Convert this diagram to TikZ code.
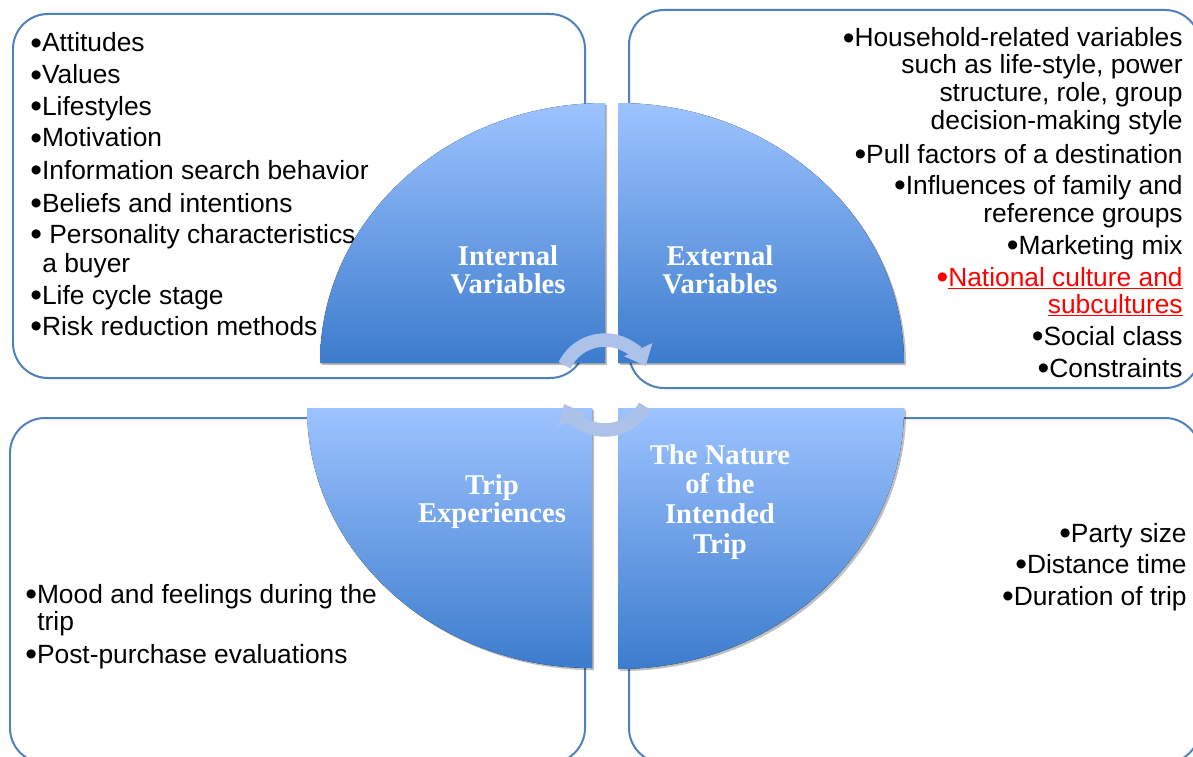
\documentclass[tikz,border=0pt]{standalone}
\usepackage{fontspec}
\usepackage{tikz}
\usetikzlibrary{arrows.meta,shadows}
\newfontfamily\listfamily{Liberation Sans}
\newfontfamily\titlefamily{Liberation Serif}
\newcommand\listtext{\listfamily\fontsize{15}{18}\selectfont}
\newcommand\titletext{\titlefamily\bfseries\fontsize{16.3}{16}\selectfont}
\newcommand\bul{\raisebox{-1.3pt}{\fontsize{19}{19}\selectfont•}}
\definecolor{boxline}{RGB}{79,129,189}
\definecolor{quadtop}{RGB}{157,195,255}
\definecolor{quadbot}{RGB}{60,124,205}
\definecolor{cyclecol}{RGB}{172,194,233}
\tikzset{
	listbox/.style={draw=boxline, line width=0.04cm, rounded corners=0.7cm},
	lline/.style={font=\listtext, inner sep=0pt, anchor=base west},
	rline/.style={font=\listtext, inner sep=0pt, anchor=base east},
	quad/.style={top color=quadtop, bottom color=quadbot, draw=none,
		drop shadow={shadow xshift=1.2pt, shadow yshift=-1.2pt, opacity=0.25, fill=black}},
	quadtitle/.style={font=\titletext, text=white, align=center, inner sep=0pt},
	cyclearr/.style={line width=0.27cm, draw=cyclecol, -{Triangle[width=0.6cm,length=0.36cm]}}
}

\begin{document}
\begin{tikzpicture}[x=0.02cm, y=-0.02cm]
			%%%%% START %%%%%
			
			\useasboundingbox (0,0) rectangle (1193,757);
			\clip (0,0) rectangle (1193,757);
			\fill[white] (0,0) rectangle (1193,757);
			
			% frames
			\draw[listbox] (13,14) rectangle (585,378);
			\draw[listbox] (629,10) rectangle (1200,388);
			\draw[listbox] (10,418) rectangle (585,763);
			\draw[listbox] (629,418) rectangle (1200,763);
			
			% internal
			\node[lline] (tl1) at (30,52) {\bul Attitudes};
			\node[lline] (tl2) at (30,84) {\bul Values};
			\node[lline] (tl3) at (30,115) {\bul Lifestyles};
			\node[lline] (tl4) at (30,147) {\bul Motivation};
			\node[lline] (tl5) at (30,179) {\bul Information search behavior};
			\node[lline] (tl6) at (30,212) {\bul Beliefs and intentions};
			\node[lline] (tl7) at (30,243) {\bul{} Personality characteristics};
			\node[lline] (tl8) at (42,272) {a buyer};
			\node[lline] (tl9) at (30,304) {\bul Life cycle stage};
			\node[lline] (tl10) at (30,335) {\bul Risk reduction methods};
			
			% external
			\node[rline] (tr1) at (1183,47) {\bul Household-related variables};
			\node[rline] (tr2) at (1183,74) {such as life-style, power};
			\node[rline] (tr3) at (1183,102) {structure, role, group};
			\node[rline] (tr4) at (1183,130) {decision-making style};
			\node[rline] (tr5) at (1183,163) {\bul Pull factors of a destination};
			\node[rline] (tr6) at (1183,194) {\bul Influences of family and};
			\node[rline] (tr7) at (1183,222) {reference groups};
			\node[rline] (tr8) at (1183,254) {\bul Marketing mix};
			\node[rline, text=red] (tr9) at (1183,286) {\bul\underline{National culture and}};
			\node[rline, text=red] (tr10) at (1183,313) {\underline{subcultures}};
			\node[rline] (tr11) at (1183,345) {\bul Social class};
			\node[rline] (tr12) at (1183,377) {\bul Constraints};
			
			% trip experiences
			\node[lline] (bl1) at (25,603) {\bul Mood and feelings during the};
			\node[lline] (bl2) at (37,630) {trip};
			\node[lline] (bl3) at (25,663) {\bul Post-purchase evaluations};
			
			% intended trip
			\node[rline] (br1) at (1187,542) {\bul Party size};
			\node[rline] (br2) at (1187,573) {\bul Distance time};
			\node[rline] (br3) at (1187,605) {\bul Duration of trip};
			
			% quadrants
			\fill[quad] (605,363) -- (320,363) arc[start angle=180, end angle=270, x radius=285, y radius=260] -- cycle;
			\fill[quad] (618,363) -- (618,103) arc[start angle=270, end angle=360, x radius=286, y radius=260] -- cycle;
			\fill[quad] (592,408) -- (592,668) arc[start angle=90, end angle=180, x radius=285, y radius=260] -- cycle;
			\fill[quad] (618,408) -- (904,408) arc[start angle=0, end angle=90, x radius=286, y radius=261] -- cycle;
			
			\node[quadtitle] (intvar) at (508,270) {Internal\\Variables};
			\node[quadtitle] (extvar) at (720,270) {External\\Variables};
			\node[quadtitle] (tripexp) at (492,502) {Trip\\Experiences};
			\node[quadtitle, font=\titlefamily\bfseries\fontsize{16.3}{17}\selectfont] (nature) at (720,502) {The Nature\\of the\\Intended\\Trip};
			
			% cycle arrows
			\coordinate (hub) at (605,385);
			\draw[cyclearr] ([shift={(206:45)}]hub) arc[start angle=206, end angle=335, radius=45];
			\draw[cyclearr] ([shift={(28:45)}]hub) arc[start angle=28, end angle=155, radius=45];
			
			%%%%% END %%%%%
\end{tikzpicture}
\end{document}
